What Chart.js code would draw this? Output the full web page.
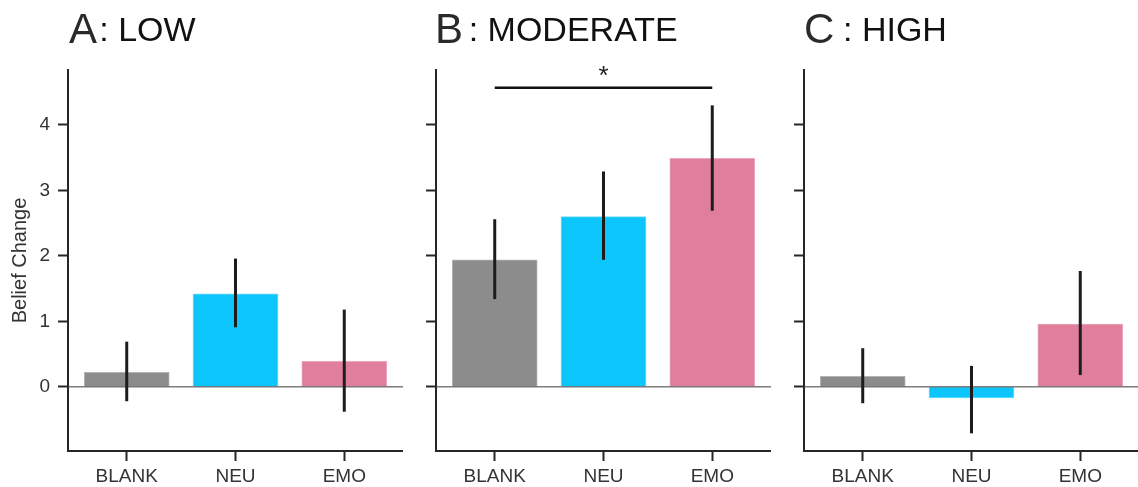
<!DOCTYPE html>
<html>
<head>
<meta charset="utf-8">
<script src="https://cdn.jsdelivr.net/npm/chart.js@4.4.0/dist/chart.umd.min.js"></script>
<style>
  html, body { margin: 0; padding: 0; background: #ffffff; }
  #wrap { position: relative; width: 1138px; height: 487px; overflow: hidden; }
  canvas { position: absolute; top: 0; }
</style>
</head>
<body>
<div id="wrap">
  <canvas id="panelA" width="403" height="487" style="left:0px"></canvas>
  <canvas id="panelB" width="403" height="487" style="left:368px"></canvas>
  <canvas id="panelC" width="403" height="487" style="left:736px"></canvas>
</div>
<script>
// Conditions on the x axis
const categories = ['BLANK', 'NEU', 'EMO'];
const yTicks = [0, 1, 2, 3, 4];

// Panel A: LOW
const lowMeans = [0.22, 1.42, 0.39];
const lowErrLow = [-0.22, 0.91, -0.38];
const lowErrHigh = [0.69, 1.96, 1.18];

// Panel B: MODERATE
const modMeans = [1.94, 2.60, 3.49];
const modErrLow = [1.34, 1.94, 2.69];
const modErrHigh = [2.56, 3.29, 4.30];

// Panel C: HIGH
const highMeans = [0.16, -0.17, 0.96];
const highErrLow = [-0.25, -0.71, 0.18];
const highErrHigh = [0.59, 0.32, 1.77];

// Significance bracket in panel B (BLANK vs EMO)
const sigPair = [0, 2];
const sigLevel = 4.57;
const sigMark = '*';

const FONT = '"Liberation Sans", Arial, Helvetica, sans-serif';
const AXIS = '#262626';
const barColors = ['#8c8c8c', '#0cc5fb', '#df7f9b'];
const barEdges = ['#b4b4b4', '#6cdcfc', '#eaa9bc'];

// Zero line, error bars, significance bracket and the panel heading
const panelDecor = {
  id: 'panelDecor',
  afterDatasetsDraw(chart, args, opts) {
    const ctx = chart.ctx;
    const xs = chart.scales.x, ys = chart.scales.y;
    const area = chart.chartArea;
    ctx.save();
    // horizontal reference line at zero
    const y0 = ys.getPixelForValue(0);
    ctx.strokeStyle = '#3a3a3a';
    ctx.lineWidth = 1;
    ctx.beginPath();
    ctx.moveTo(area.left, y0);
    ctx.lineTo(area.right, y0);
    ctx.stroke();
    // error bars
    ctx.strokeStyle = '#1c1c1c';
    ctx.lineWidth = 3;
    ctx.lineCap = 'butt';
    opts.lo.forEach((lo, i) => {
      const px = xs.getPixelForValue(i);
      ctx.beginPath();
      ctx.moveTo(px, ys.getPixelForValue(lo));
      ctx.lineTo(px, ys.getPixelForValue(opts.hi[i]));
      ctx.stroke();
    });
    // significance bracket
    if (opts.bracket) {
      const b = opts.bracket;
      const by = ys.getPixelForValue(b.level);
      const x1 = xs.getPixelForValue(b.pair[0]);
      const x2 = xs.getPixelForValue(b.pair[1]);
      ctx.strokeStyle = '#111111';
      ctx.lineWidth = 2.5;
      ctx.beginPath();
      ctx.moveTo(x1, by);
      ctx.lineTo(x2, by);
      ctx.stroke();
      ctx.fillStyle = '#222222';
      ctx.font = '26px ' + FONT;
      ctx.textAlign = 'center';
      ctx.textBaseline = 'alphabetic';
      ctx.fillText(b.mark, (x1 + x2) / 2, by - 3.5);
    }
    ctx.restore();
  },
  afterDraw(chart, args, opts) {
    const ctx = chart.ctx;
    const left = chart.chartArea.left;
    ctx.save();
    ctx.textAlign = 'left';
    ctx.textBaseline = 'alphabetic';
    ctx.fillStyle = '#2a2a2a';
    ctx.font = '42px ' + FONT;
    ctx.fillText(opts.letter, left + opts.letterShift, 42.7);
    ctx.fillStyle = '#111111';
    ctx.font = '34px ' + FONT;
    ctx.fillText(': ' + opts.name, left + opts.nameShift, 40.7);
    ctx.restore();
  }
};

function makePanel(canvasId, means, errLow, errHigh, heading, showYLabels, bracket) {
  return new Chart(document.getElementById(canvasId), {
    type: 'bar',
    data: {
      datasets: [{
        data: means.map((v, i) => ({ x: i, y: v })),
        backgroundColor: barColors,
        borderColor: barEdges,
        borderWidth: 1,
        barThickness: 85
      }]
    },
    options: {
      responsive: false,
      animation: false,
      devicePixelRatio: 1,
      layout: { padding: { top: 70, right: 0, bottom: 0, left: 0 } },
      plugins: {
        legend: { display: false },
        tooltip: { enabled: false },
        panelDecor: Object.assign({ lo: errLow, hi: errHigh, bracket: bracket }, heading)
      },
      scales: {
        x: {
          type: 'linear',
          min: -0.54,
          max: 2.54,
          offset: false,
          afterBuildTicks: s => { s.ticks = categories.map((c, i) => ({ value: i })); },
          afterFit: s => { s.height = 36; },
          border: { display: true, color: AXIS, width: 2 },
          grid: { offset: false, drawOnChartArea: false, drawTicks: true, tickLength: 10, tickColor: AXIS, tickWidth: 2 },
          ticks: {
            padding: 4,
            color: '#333333',
            maxRotation: 0,
            autoSkip: false,
            font: { family: FONT, size: 19 },
            callback: v => categories[v]
          }
        },
        y: {
          min: -0.98,
          max: 4.84,
          afterBuildTicks: s => { s.ticks = yTicks.map(v => ({ value: v })); },
          afterFit: s => { s.width = 68; },
          border: { display: true, color: AXIS, width: 2 },
          grid: { drawOnChartArea: false, drawTicks: true, tickLength: 10, tickColor: AXIS, tickWidth: 2 },
          ticks: {
            padding: 8,
            color: '#333333',
            font: { family: FONT, size: 19 },
            callback: v => showYLabels ? String(v) : ''
          },
          title: {
            display: showYLabels,
            text: 'Belief Change',
            color: '#333333',
            font: { family: FONT, size: 20 },
            padding: { top: 8, bottom: 0 }
          }
        }
      }
    },
    plugins: [panelDecor]
  });
}

makePanel('panelA', lowMeans, lowErrLow, lowErrHigh,
  { letter: 'A', name: 'LOW', letterShift: 1, nameShift: 31.3 }, true, null);
makePanel('panelB', modMeans, modErrLow, modErrHigh,
  { letter: 'B', name: 'MODERATE', letterShift: -1, nameShift: 32.7 }, false,
  { pair: sigPair, level: sigLevel, mark: sigMark });
makePanel('panelC', highMeans, highErrLow, highErrHigh,
  { letter: 'C', name: 'HIGH', letterShift: 0, nameShift: 39 }, false, null);
</script>
</body>
</html>
